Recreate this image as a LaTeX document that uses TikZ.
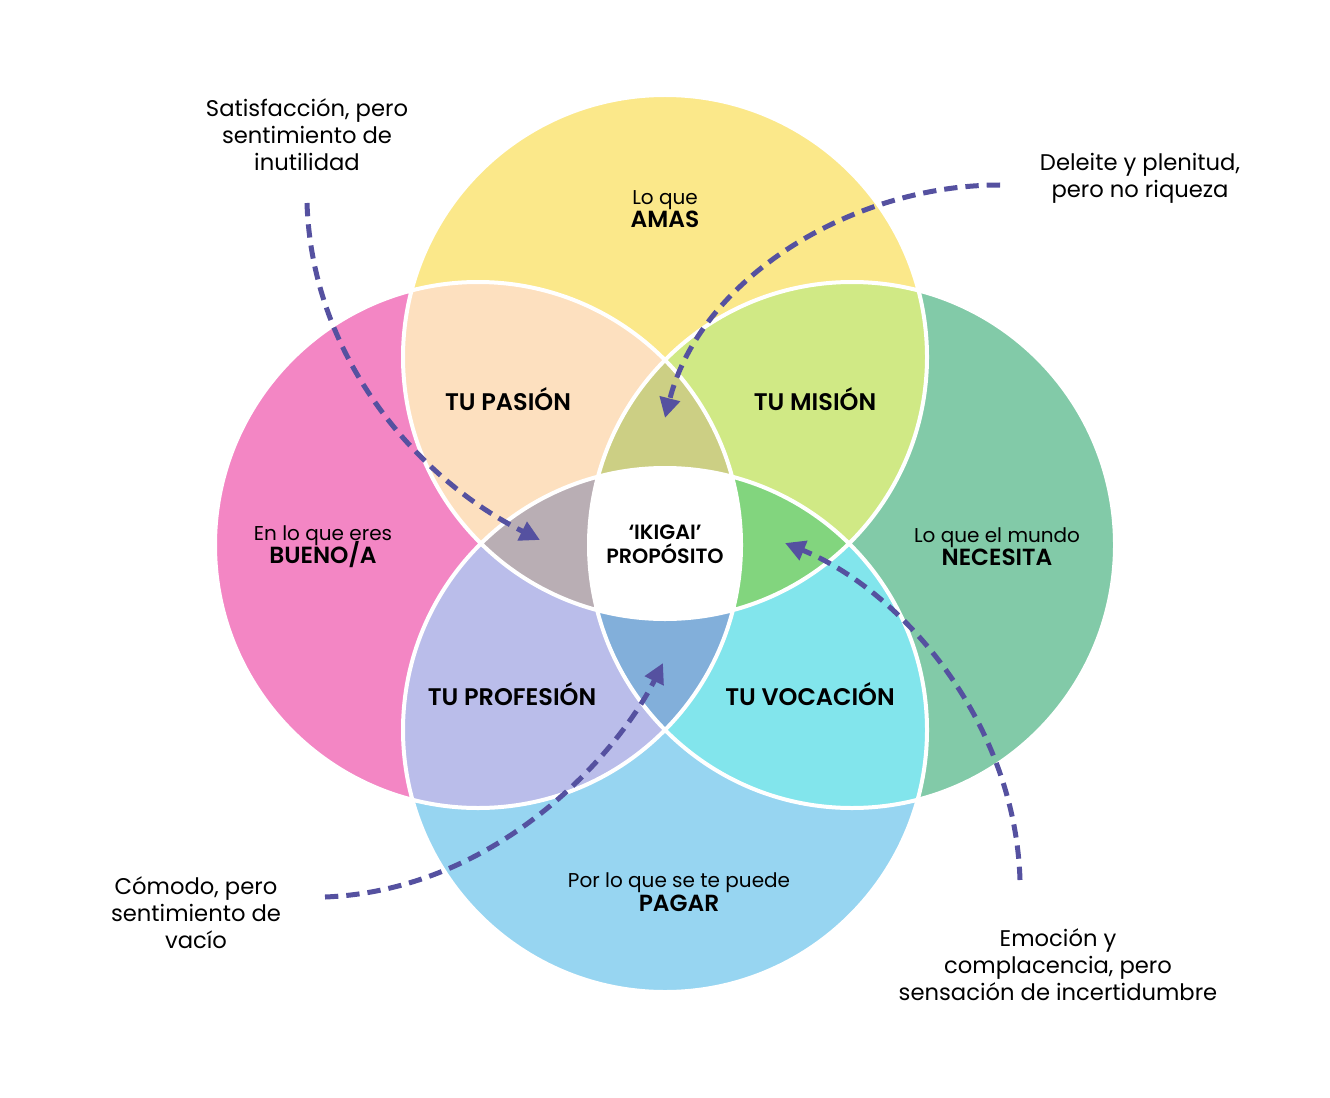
\documentclass[tikz,border=0pt]{standalone}
\usepackage{fontspec}
\setmainfont{Poppins}[BoldFont={* SemiBold}]
\usepackage{xcolor}
\usepackage{tikz}
\usetikzlibrary{arrows.meta}

\definecolor{amarillo}{HTML}{FBE88A}
\definecolor{rosa}{HTML}{F386C4}
\definecolor{verde}{HTML}{82CAA8}
\definecolor{celeste}{HTML}{97D5F1}
\definecolor{melocoton}{HTML}{FDE0BF}
\definecolor{lima}{HTML}{D0E985}
\definecolor{lavanda}{HTML}{BABDEA}
\definecolor{turquesa}{HTML}{82E5EC}
\definecolor{oliva}{HTML}{CCCF84}
\definecolor{malva}{HTML}{B9AEB4}
\definecolor{verdeclaro}{HTML}{82D57E}
\definecolor{azul}{HTML}{82AFDA}
\definecolor{flechac}{HTML}{5551A0}

\newcommand{\cirTop}{(665,357) circle (262)}
\newcommand{\cirIzq}{(478,545) circle (263)}
\newcommand{\cirDer}{(852,545) circle (263)}
\newcommand{\cirBaj}{(665,730) circle (262)}

\begin{document}
\begin{tikzpicture}[x=0.75pt,y=-0.75pt,>={Triangle[length=15pt,width=15pt]}]

		\tikzstyle{flecha}=[->,draw=flechac,line width=3.75pt,dash pattern=on 10pt off 6pt]
		\tikzstyle{nota}=[align=center,text=black,font=\fontsize{17}{20.25}\selectfont]
		\tikzstyle{circulo}=[align=center,text=black,font={\fontsize{15}{17.5}\selectfont\lineskiplimit=-20pt}]
		\tikzstyle{zona}=[text=black,font=\fontsize{18}{20}\selectfont\bfseries]

		\useasboundingbox (0,0) rectangle (1330,1098);

		% los cuatro circulos
		\fill[rosa] \cirIzq;
		\fill[verde] \cirDer;
		\fill[amarillo] \cirTop;
		\fill[celeste] \cirBaj;

		% cruces de dos
		\begin{scope} \clip \cirTop; \fill[melocoton] \cirIzq; \fill[lima] \cirDer; \end{scope}
		\begin{scope} \clip \cirBaj; \fill[lavanda] \cirIzq; \fill[turquesa] \cirDer; \end{scope}

		% cruces de tres
		\begin{scope} \clip \cirTop; \clip \cirIzq; \fill[oliva] \cirDer; \end{scope}
		\begin{scope} \clip \cirTop; \clip \cirIzq; \fill[malva] \cirBaj; \end{scope}
		\begin{scope} \clip \cirTop; \clip \cirDer; \fill[verdeclaro] \cirBaj; \end{scope}
		\begin{scope} \clip \cirBaj; \clip \cirIzq; \fill[azul] \cirDer; \end{scope}

		% centro
		\begin{scope} \clip \cirTop; \clip \cirBaj; \clip \cirIzq; \fill[white] \cirDer; \end{scope}

		\draw[white,line width=3pt] \cirIzq \cirDer \cirTop \cirBaj;

		% textos
		\node[circulo] (amas)     at (665,209) {Lo que\\{\fontsize{17.5}{17.5}\selectfont\bfseries AMAS}};
		\node[circulo] (bueno)    at (323,547) {En lo que eres\\{\fontsize{17.5}{17.5}\selectfont\bfseries BUENO/A}};
		\node[circulo] (necesita) at (997,547) {Lo que el mundo\\{\fontsize{17.5}{17.5}\selectfont\bfseries NECESITA}};
		\node[circulo] (pagar)    at (679,892) {Por lo que se te puede\\{\fontsize{17.5}{17.5}\selectfont\bfseries PAGAR}};

		\node[zona] (pasion)    at (508,399) {TU PASIÓN};
		\node[zona] (mision)    at (815,399) {TU MISIÓN};
		\node[zona] (profesion) at (512,694) {TU PROFESIÓN};
		\node[zona] (vocacion)  at (810,694) {TU VOCACIÓN};

		\node[align=center,font=\fontsize{15.5}{18}\selectfont\bfseries] (ikigai) at (665,544) {‘IKIGAI’\\PROPÓSITO};

		\node[nota] (satis)   at (307,135) {Satisfacción, pero\\sentimiento de\\inutilidad};
		\node[nota] (deleite) at (1140,178) {Deleite y plenitud,\\pero no riqueza};
		\node[nota] (comodo)  at (196,913) {Cómodo, pero\\sentimiento de\\vacío};
		\node[nota] (emocion) at (1058,965) {Emoción y\\complacencia, pero\\sensación de incertidumbre};

		% flechas
		\coordinate (s0) at (307,203);  \coordinate (s1) at (540,540);
		\coordinate (d0) at (1000,185); \coordinate (d1) at (665,418);
		\coordinate (c0) at (325,897);  \coordinate (c1) at (663,663);
		\coordinate (e0) at (1020,880); \coordinate (e1) at (785,543);

		\draw[flecha] (s0) .. controls (312,360) and (420,480) .. (s1);
		\draw[flecha] (d0) .. controls (850,185) and (700,280) .. (d1);
		\draw[flecha] (c0) .. controls (500,890) and (620,750) .. (c1);
		\draw[flecha] (e0) .. controls (1015,720) and (900,590) .. (e1);

	\end{tikzpicture}
\end{document}
